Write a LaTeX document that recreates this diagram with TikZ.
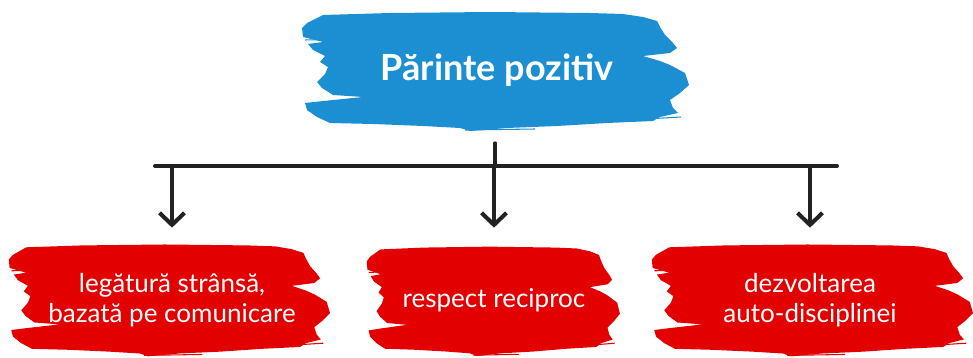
\documentclass[tikz,border=0pt]{standalone}
\usepackage{fontspec}
\setmainfont{Lato}
\usetikzlibrary{arrows.meta, positioning}

\definecolor{strokeblue}{HTML}{1B8FD2}
\definecolor{strokered}{HTML}{E30000}
\definecolor{ink}{HTML}{222222}

\tikzset{
  pics/brush/.style={code={
    % ragged paint stroke, about 387 x 119 units
    \fill[#1] (-172,-55) -- (-105,-57) -- (-5,-58) -- (95,-57) -- (128,-56)
      -- (148,-53) -- (162,-49) -- (165,-43) -- (170,-35) -- (178,-27)
      -- (182,-22) -- (175,-17) -- (148,-14) -- (165,-9) -- (175,-5)
      -- (190,3) -- (194,15) -- (185,23) -- (175,30) -- (178,38)
      -- (183,43) -- (165,47) -- (158,51) -- (112,53) -- (62,56)
      -- (12,58) -- (-25,61) -- (-35,58) -- (-72,56) -- (-122,54)
      -- (-165,53) -- (-178,47) -- (-188,40) -- (-190,33) -- (-172,31)
      -- (-132,27) -- (-162,25) -- (-173,18) -- (-178,12) -- (-170,4)
      -- (-167,-3) -- (-175,-8) -- (-170,-14) -- (-182,-20) -- (-187,-26)
      -- (-172,-28) -- (-192,-33) -- (-193,-42) -- (-188,-47) -- (-178,-52)
      -- cycle;
    % loose bristle marks
    \draw[#1, line width=0.6pt] (-190,-30) -- (-150,-31);
    \draw[#1, line width=0.6pt] (-186,36) -- (-120,35);
    \draw[#1, line width=0.6pt] (150,49) -- (186,47);
    \draw[#1, line width=0.6pt] (-30,60) -- (40,59);
  }},
  title/.style={minimum width=7.8cm, minimum height=2.4cm, text=white,
    font=\fontsize{20.5}{24}\selectfont\bfseries},
  item/.style={minimum height=2.24cm, text=white, align=center,
    font=\fontsize{14.8}{17.4}\selectfont},
  link/.style={ink, line width=2.3pt, line cap=round},
  arrow/.style={link, -{Straight Barb[length=2.4mm, width=5mm]}}
}

\begin{document}
\begin{tikzpicture}[x=0.02cm, y=-0.02cm]
  \useasboundingbox (0,0) rectangle (973,358);

  % Title stroke
  \pic at (495,70) {brush=strokeblue};
  \node[title] (top) at (497,70) {Părinte pozitiv};

  % Red strokes
  \pic[xscale=0.83, yscale=0.94] at (169,299) {brush=strokered};
  \pic[xscale=0.654, yscale=0.92] at (493,300) {brush=strokered};
  \pic[xscale=0.83, yscale=0.94] at (812,299) {brush=strokered};

  \node[item] (bond) at (172,300) {legătură strânsă,\\bazată pe comunicare};
  \node[item] (respect) at (494,300) {respect reciproc};
  \node[item] (discipline) at (810,300) {dezvoltarea\\auto-disciplinei};

  % Branch line
  \coordinate (hub) at (495,166);
  \coordinate (lend) at (155,166);
  \coordinate (rend) at (837,166);
  \draw[link, shorten <=0.26cm] (hub |- top.south) -- (hub);
  \draw[link] (lend) -- (rend);

  % Arrows down
  \foreach \n in {bond, respect, discipline}
    \draw[arrow, shorten >=0.32cm] (\n |- hub) -- (\n.north);
\end{tikzpicture}
\end{document}
